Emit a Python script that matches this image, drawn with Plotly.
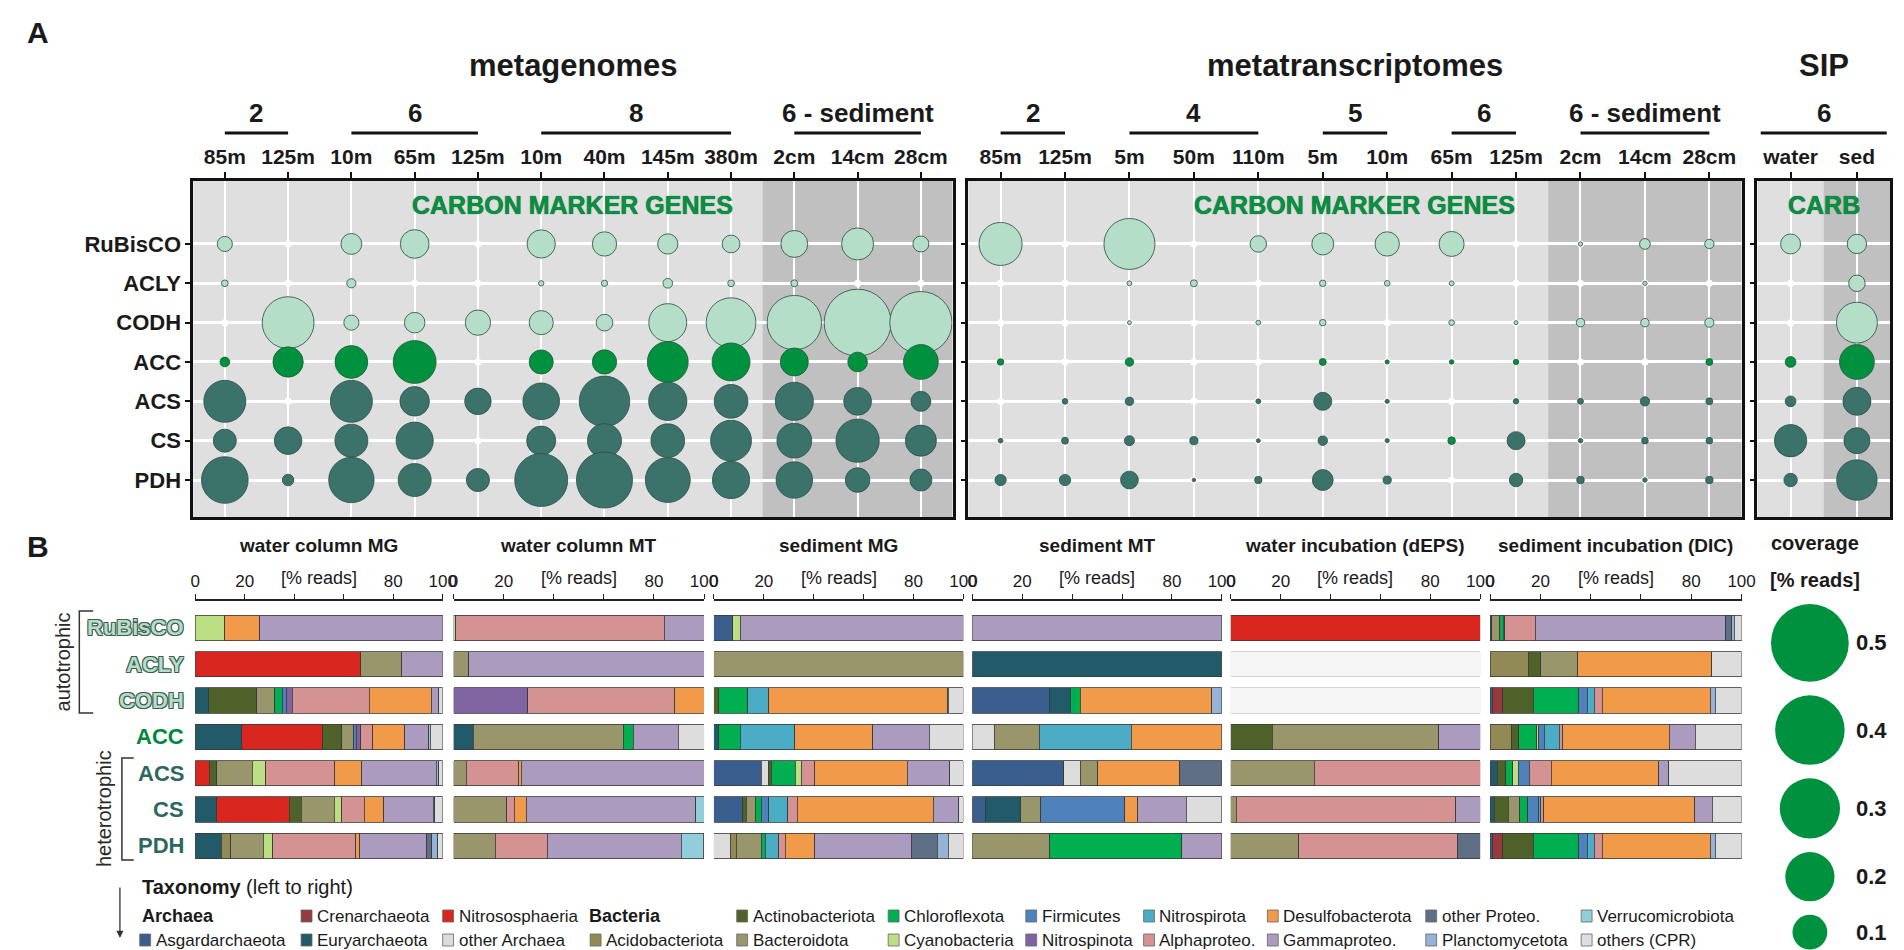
import math
import plotly.graph_objects as go

W, H = 1904, 950
NARROW = "Liberation Sans Narrow, Liberation Sans, Arial, sans-serif"
SANS = "Liberation Sans, Arial, sans-serif"

genes = ["RuBisCO", "ACLY", "CODH", "ACC", "ACS", "CS", "PDH"]

# ---------------- A: gene coverage [% reads] ----------------
mg_columns = ["85m", "125m", "10m", "65m", "125m", "10m", "40m", "145m", "380m", "2cm", "14cm", "28cm"]
mg_groups = [("2", 0, 1), ("6", 2, 4), ("8", 5, 8), ("6 - sediment", 9, 11)]
mg_coverage = [
    [0.019, 0, 0.036, 0.068, 0, 0.066, 0.049, 0.034, 0.026, 0.06, 0.085, 0.021],
    [0.0037, 0, 0.007, 0, 0, 0.0025, 0.0033, 0.0078, 0.0037, 0.004, 0, 0],
    [0, 0.222, 0.019, 0.035, 0.053, 0.048, 0.023, 0.119, 0.204, 0.245, 0.37, 0.32],
    [0.0078, 0.076, 0.089, 0.152, 0, 0.048, 0.049, 0.138, 0.119, 0.065, 0.032, 0.1],
    [0.146, 0, 0.146, 0.072, 0.058, 0.111, 0.211, 0.121, 0.094, 0.12, 0.064, 0.033],
    [0.044, 0.063, 0.09, 0.114, 0, 0.07, 0.096, 0.094, 0.138, 0.1, 0.155, 0.08],
    [0.18, 0.011, 0.17, 0.09, 0.044, 0.232, 0.26, 0.167, 0.115, 0.11, 0.05, 0.04],
]

mt_columns = ["85m", "125m", "5m", "50m", "110m", "5m", "10m", "65m", "125m", "2cm", "14cm", "28cm"]
mt_groups = [("2", 0, 1), ("4", 2, 4), ("5", 5, 6), ("6", 7, 8), ("6 - sediment", 9, 11)]
mt_coverage = [
    [0.153, 0, 0.215, 0, 0.0225, 0.04, 0.049, 0.052, 0, 0.0015, 0.0096, 0.0072],
    [0, 0, 0.002, 0.004, 0, 0.0035, 0.0027, 0.002, 0, 0, 0.0015, 0],
    [0, 0, 0.0013, 0, 0.002, 0.0035, 0, 0.0027, 0.0013, 0.006, 0.006, 0.007],
    [0.0035, 0, 0.006, 0, 0, 0.004, 0.0015, 0.0018, 0.0025, 0, 0, 0.004],
    [0, 0.0027, 0.006, 0, 0.002, 0.027, 0.0015, 0, 0.0025, 0.003, 0.0072, 0.004],
    [0.0019, 0.004, 0.0083, 0.0056, 0.0013, 0.0075, 0.0015, 0.0048, 0.027, 0.0017, 0.0037, 0.0037],
    [0.0105, 0.0105, 0.026, 0.001, 0.0045, 0.036, 0.0056, 0, 0.015, 0.0048, 0.0017, 0.0048],
]
mt_green_cells = [(5, 7)]  # CS at 65m is drawn in the ACC green

sip_columns = ["water", "sed"]
sip_groups = [("6", 0, 1)]
sip_coverage = [
    [0.033, 0.031],
    [0, 0.0225],
    [0, 0.138],
    [0.0096, 0.1],
    [0.0096, 0.065],
    [0.087, 0.056],
    [0.015, 0.135],
]

coverage_legend = [0.5, 0.4, 0.3, 0.2, 0.1]

# ---------------- B: taxonomy [% reads] ----------------
taxa = ["Asgardarchaeota", "Crenarchaeota", "Euryarchaeota", "Nitrososphaeria", "other Archaea",
        "Acidobacteriota", "Actinobacteriota", "Bacteroidota", "Chloroflexota", "Cyanobacteria",
        "Firmicutes", "Nitrospinota", "Nitrospirota", "Alphaproteo.", "Desulfobacterota",
        "Gammaproteo.", "other Proteo.", "Planctomycetota", "Verrucomicrobiota", "others (CPR)"]
archaea = taxa[:5]
bacteria = taxa[5:]

water_column_mg = {
    "Euryarchaeota": [0, 0, 5.5, 18.8, 0, 8.8, 10.6],
    "Nitrososphaeria": [0, 67, 0, 32.7, 5.7, 29.2, 0],
    "Acidobacteriota": [0, 0, 0, 0, 0, 0, 3.7],
    "Actinobacteriota": [0, 0, 19.4, 7.8, 3, 4.9, 0],
    "Bacteroidota": [0, 16.5, 7.3, 4.7, 14.3, 13.3, 13.3],
    "Chloroflexota": [0, 0, 3, 0, 0, 0, 0],
    "Cyanobacteria": [12, 0, 0, 0, 5.5, 3, 3.7],
    "Firmicutes": [0, 0, 1.6, 1, 0, 0, 0],
    "Nitrospinota": [0, 0, 2.4, 2, 0, 0, 0],
    "Alphaproteo.": [0, 0, 31.2, 4.7, 27.8, 9.2, 33.5],
    "Desulfobacterota": [14, 0, 25, 13, 11, 7.8, 1.6],
    "Gammaproteo.": [74, 16.5, 3, 9.6, 30.2, 20, 27.1],
    "other Proteo.": [0, 0, 0, 0, 0, 0, 2],
    "Planctomycetota": [0, 0, 0, 0, 1, 0, 2.5],
    "Verrucomicrobiota": [0, 0, 0, 0.6, 0, 0.5, 0],
    "others (CPR)": [0, 0, 1.6, 5.1, 1.5, 3.3, 2],
}
water_column_mt = {
    "Euryarchaeota": [0, 0, 0, 7.9, 0, 0, 0],
    "Bacteroidota": [0, 6, 0, 59.8, 5, 21.2, 16.6],
    "Chloroflexota": [0, 0, 0, 4, 0, 0, 0],
    "Cyanobacteria": [0.8, 0, 0, 0, 0, 0, 0],
    "Nitrospinota": [0, 0, 29.7, 0, 0, 0, 0],
    "Alphaproteo.": [83.4, 0, 58.6, 0, 21, 3, 20.8],
    "Desulfobacterota": [0, 0, 11.7, 0, 1, 4.8, 0],
    "Gammaproteo.": [15.8, 94, 0, 18, 73, 67.7, 53.6],
    "Verrucomicrobiota": [0, 0, 0, 0, 0, 3.3, 8.9],
    "others (CPR)": [0, 0, 0, 10.3, 0, 0, 0],
}
sediment_mg = {
    "Asgardarchaeota": [7.5, 0, 0, 0, 19, 11.6, 0],
    "Euryarchaeota": [0, 0, 0, 2, 0, 0, 0],
    "other Archaea": [0, 0, 0, 0, 3, 0, 6.5],
    "Acidobacteriota": [0, 0, 0, 0, 0, 0, 2.4],
    "Actinobacteriota": [0, 0, 2, 0, 1, 1.4, 0],
    "Bacteroidota": [0, 100, 0, 0, 0, 3.6, 10],
    "Chloroflexota": [0, 0, 11.6, 8.6, 9.5, 2.4, 1.6],
    "Cyanobacteria": [3, 0, 0, 0, 2.4, 0, 0],
    "Firmicutes": [0, 0, 0, 0, 0, 3, 0],
    "Nitrospirota": [0, 0, 8.3, 21.8, 0, 7.5, 5.5],
    "Alphaproteo.": [0, 0, 0, 0, 5.6, 3.8, 2.6],
    "Desulfobacterota": [0, 0, 71.6, 31.3, 36.9, 54.6, 11.9],
    "Gammaproteo.": [89.5, 0, 0, 22.6, 17.2, 10.3, 38.5],
    "other Proteo.": [0, 0, 0.5, 0, 0, 0, 10.6],
    "Planctomycetota": [0, 0, 0, 0, 0, 0, 4.4],
    "others (CPR)": [0, 0, 6, 13.7, 5.4, 1.8, 6],
}
sediment_mt = {
    "Asgardarchaeota": [0, 0, 31, 0, 36.6, 5.3, 0],
    "Euryarchaeota": [0, 100, 8.3, 0, 0, 14.2, 0],
    "other Archaea": [0, 0, 0, 8.8, 6.7, 0, 0],
    "Bacteroidota": [0, 0, 0, 18, 6.9, 8, 31],
    "Chloroflexota": [0, 0, 3.9, 0, 0, 0, 52.9],
    "Firmicutes": [0, 0, 0, 0, 0, 33.6, 0],
    "Nitrospirota": [0, 0, 0, 36.9, 0, 0, 0],
    "Desulfobacterota": [0, 0, 52.7, 36.3, 33, 5.3, 0],
    "Gammaproteo.": [100, 0, 0, 0, 0, 19.4, 16.1],
    "other Proteo.": [0, 0, 0, 0, 16.8, 0, 0],
    "Planctomycetota": [0, 0, 4.1, 0, 0, 0, 0],
    "others (CPR)": [0, 0, 0, 0, 0, 14.2, 0],
}
water_incubation = {
    "Nitrososphaeria": [100, 0, 0, 0, 0, 0, 0],
    "Actinobacteriota": [0, 0, 0, 16.6, 0, 0, 0],
    "Bacteroidota": [0, 0, 0, 66.8, 33.5, 2.3, 27.3],
    "Alphaproteo.": [0, 0, 0, 0, 66.5, 87.9, 63.6],
    "Gammaproteo.": [0, 0, 0, 16.6, 0, 9.8, 0],
    "other Proteo.": [0, 0, 0, 0, 0, 0, 9.1],
}
sediment_incubation = {
    "Asgardarchaeota": [0, 0, 1, 0, 0, 0, 1],
    "Crenarchaeota": [0, 0, 4.1, 0, 0, 0, 4.1],
    "Euryarchaeota": [0.7, 0, 0, 0, 2.8, 1.6, 0],
    "Acidobacteriota": [0, 15.2, 0, 8.7, 0, 0, 0],
    "Actinobacteriota": [0, 5, 12, 2.7, 3.5, 5.7, 12],
    "Bacteroidota": [3.2, 14.7, 0, 0, 0, 4.4, 0],
    "Chloroflexota": [1.4, 0, 18.1, 7.1, 2.7, 3.2, 18.1],
    "Cyanobacteria": [0, 0, 0, 0.9, 2.1, 0, 0],
    "Firmicutes": [0, 0, 3.5, 2.1, 4.4, 4.4, 3.5],
    "Nitrospirota": [0.6, 0, 2.7, 5.9, 0, 0.9, 2.7],
    "Alphaproteo.": [12.1, 0, 3.2, 1.4, 8.9, 1.2, 3.2],
    "Desulfobacterota": [0, 53.2, 42.9, 42.4, 42.6, 59.9, 42.9],
    "Gammaproteo.": [75.8, 0, 0, 10.3, 4.1, 7.1, 0],
    "other Proteo.": [2.3, 0, 0, 0, 0, 0, 0],
    "Planctomycetota": [0.9, 0, 2.1, 0, 0, 0, 2.1],
    "others (CPR)": [3, 11.9, 10.4, 18.5, 28.9, 11.6, 10.4],
}

taxon_colors = {
    "Asgardarchaeota": "#3a5e8e", "Crenarchaeota": "#953a3d", "Euryarchaeota": "#235a69",
    "Nitrososphaeria": "#d9261e", "other Archaea": "#dcdcdc", "Acidobacteriota": "#928a55",
    "Actinobacteriota": "#4e6229", "Bacteroidota": "#9a966c", "Chloroflexota": "#00b050",
    "Cyanobacteria": "#bddf83", "Firmicutes": "#4f81bd", "Nitrospinota": "#8064a2",
    "Nitrospirota": "#4bacc6", "Alphaproteo.": "#d49392", "Desulfobacterota": "#f09a4a",
    "Gammaproteo.": "#aa9bbf", "other Proteo.": "#5f6f86", "Planctomycetota": "#95b3d7",
    "Verrucomicrobiota": "#92cddc", "others (CPR)": "#dddddd",
}

MINT, GREEN, TEAL = "#b4dec7", "#00913f", "#3b7269"
gene_colors = [MINT, MINT, MINT, GREEN, TEAL, TEAL, TEAL]
gene_lines = ["#2a4a3e", "#2a4a3e", "#2a4a3e", "#1d5a35", "#2a5049", "#2a5049", "#2a5049"]
label_colors = [MINT, MINT, MINT, "#00873c", "#2d675e", "#2d675e", "#2d675e"]
OUTLINE = "-1px -1px 0 #3d5d50, 1px -1px 0 #3d5d50, -1px 1px 0 #3d5d50, 1px 1px 0 #3d5d50"

SIZEREF = 1 / 6050.0  # bubble diameter ~ 110 px * sqrt(% reads)


def px(x):
    return x / W


def py(y):
    return 1 - y / H


fig = go.Figure()
axes = {}
shapes = []
annotations = []


def ann(text, x, y, size, bold=False, color="#1a1a1a", family=NARROW, xanchor="center",
        yanchor="middle", xref="paper", yref="paper", angle=0, shadow=None):
    font = dict(size=size, color=color, family=family, weight="bold" if bold else "normal")
    if shadow:
        font["shadow"] = shadow
    annotations.append(dict(text=text, x=x, y=y, xref=xref, yref=yref, showarrow=False,
                            xanchor=xanchor, yanchor=yanchor, font=font, textangle=angle))


# ---------------- panel A ----------------
ann("A", px(12), py(25), 30, bold=True, family=SANS, xanchor="left")

bubble_panels = [
    dict(data=mg_coverage, columns=mg_columns, groups=mg_groups, x0=182, x1=949, sed=8.5,
         title="metagenomes", tag="CARBON MARKER GENES", labels=True, pad=0, green=[]),
    dict(data=mt_coverage, columns=mt_columns, groups=mt_groups, x0=965, x1=1746, sed=8.5,
         title="metatranscriptomes", tag="CARBON MARKER GENES", labels=False, pad=0, green=mt_green_cells),
    dict(data=sip_coverage, columns=sip_columns, groups=sip_groups, x0=1762, x1=1896, sed=0.5,
         title="SIP", tag="CARB", labels=False, pad=0.45, green=[]),
]

for k, p in enumerate(bubble_panels, start=1):
    xa = "x" if k == 1 else f"x{k}"
    ya = "y" if k == 1 else f"y{k}"
    xkey = "xaxis" if k == 1 else f"xaxis{k}"
    ykey = "yaxis" if k == 1 else f"yaxis{k}"
    ncol = len(p["columns"])
    axes[xkey] = dict(domain=[px(p["x0"]), px(p["x1"])], range=[-0.5, ncol - 0.5],
                      tickmode="array", tickvals=list(range(ncol)), ticktext=p["columns"],
                      side="top", ticks="outside", ticklen=6, tickwidth=1.5, tickcolor="#111",
                      tickangle=0, showline=True, mirror=True, linewidth=2.5, linecolor="#111",
                      showgrid=True, gridcolor="white", gridwidth=1.5, zeroline=False,
                      tickfont=dict(family=NARROW, size=21, color="#1a1a1a", weight="bold"),
                      anchor=ya, fixedrange=True)
    axes[ykey] = dict(domain=[py(509), py(173)], type="category", categoryorder="array",
                      categoryarray=genes, range=[6.94, -1.6], ticks="outside", ticklen=5,
                      tickwidth=1.5, tickcolor="#111", showticklabels=p["labels"],
                      showline=True, mirror=True, linewidth=2.5, linecolor="#111",
                      showgrid=True, gridcolor="white", gridwidth=2.5, zeroline=False,
                      tickfont=dict(family=NARROW, size=22, color="#1a1a1a", weight="bold"),
                      anchor=xa, fixedrange=True)
    shapes.append(dict(type="rect", xref=f"{xa} domain", yref=f"{ya} domain", x0=0, x1=1, y0=0, y1=1,
                       fillcolor="#dfdfdf", line=dict(width=0), layer="below"))
    shapes.append(dict(type="rect", xref=xa, yref=f"{ya} domain", x0=p["sed"], x1=ncol - 0.5, y0=0, y1=1,
                       fillcolor="#c0c0c0", line=dict(width=0), layer="below"))

    # grid intersections
    fig.add_trace(go.Scatter(x=[c for g in genes for c in range(ncol)],
                             y=[g for g in genes for c in range(ncol)],
                             mode="markers", marker=dict(color="white", size=7),
                             xaxis=xa, yaxis=ya, hoverinfo="skip", showlegend=False))
    for gi, gene in enumerate(genes):
        row = p["data"][gi]
        cols = [c for c, v in enumerate(row) if v > 0]
        colors = [GREEN if (gi, c) in p["green"] else gene_colors[gi] for c in cols]
        fig.add_trace(go.Scatter(
            x=cols, y=[gene] * len(cols), mode="markers",
            marker=dict(size=[row[c] for c in cols], sizemode="area", sizeref=SIZEREF,
                        color=colors, opacity=1,
                        line=dict(color=gene_lines[gi], width=0.8)),
            xaxis=xa, yaxis=ya, showlegend=False,
            hovertemplate=gene + " %{x}: %{marker.size} % reads<extra></extra>"))

    ann(p["title"], 0.5, py(58), 31, bold=True, xref=f"{xa} domain")
    ann(p["tag"], 0.5, py(197), 25, bold=True, color="#07903f", xref=f"{xa} domain",
        shadow="0 0 1px #0a3f22")
    for name, a, b in p["groups"]:
        ann(name, (a + b) / 2, py(105), 26, bold=True, xref=xa)
        shapes.append(dict(type="line", xref=xa, yref="paper", x0=a - p["pad"], x1=b + p["pad"],
                           y0=py(125), y1=py(125), line=dict(color="#111", width=3)))

# ---------------- panel B ----------------
ann("B", px(12), py(538), 30, bold=True, family=SANS, xanchor="left")

bar_panels = [
    ("water column MG", water_column_mg, 184, 434),
    ("water column MT", water_column_mt, 445, 698),
    ("sediment MG", sediment_mg, 708, 960),
    ("sediment MT", sediment_mt, 969, 1221),
    ("water incubation (dEPS)", water_incubation, 1230, 1482),
    ("sediment incubation (DIC)", sediment_incubation, 1492, 1746),
]

for i, (title, table, x0, x1) in enumerate(bar_panels):
    k = i + 4
    xa, ya = f"x{k}", f"y{k}"
    axes[f"xaxis{k}"] = dict(domain=[px(x0), px(x1)], range=[0, 100], side="top",
                             tickmode="array", tickvals=[0, 20, 40, 60, 80, 100],
                             ticktext=["0", "20", "", "", "80", "100"], tickangle=0,
                             ticks="outside", ticklen=5, tickwidth=1.2, tickcolor="#222",
                             showline=True, linewidth=2, linecolor="#222", showgrid=False,
                             zeroline=False, anchor=ya, fixedrange=True,
                             tickfont=dict(family=NARROW, size=17, color="#1a1a1a"))
    axes[f"yaxis{k}"] = dict(domain=[py(855), py(593)], type="category", categoryorder="array",
                             categoryarray=genes, range=[6.47, -0.74], showticklabels=False,
                             showgrid=False, showline=False, zeroline=False, ticks="",
                             anchor=xa, fixedrange=True)
    totals = [sum(vals[g] for vals in table.values()) for g in range(len(genes))]
    for taxon in taxa:
        if taxon not in table:
            continue
        vals = table[taxon]
        fig.add_trace(go.Bar(
            x=[v if v > 0 else None for v in vals], y=genes, orientation="h",
            marker=dict(color=taxon_colors[taxon], line=dict(color="#3a3a3a", width=0.8)),
            name=taxon, xaxis=xa, yaxis=ya, showlegend=False,
            hovertemplate=taxon + " %{y}: %{x}%<extra></extra>"))
    if any(t == 0 for t in totals):
        fig.add_trace(go.Bar(
            x=[100 if t == 0 else None for t in totals], y=genes, orientation="h",
            marker=dict(color="#f6f6f6", line=dict(color="#d6d6d6", width=1)),
            xaxis=xa, yaxis=ya, showlegend=False, hoverinfo="skip"))
    ann(title, px((x0 + x1) / 2), py(537), 19, bold=True)
    ann("[% reads]", px((x0 + x1) / 2), py(570), 18)

for gi, gene in enumerate(genes):
    ann(gene, px(175), gene, 22, bold=True, color=label_colors[gi], xanchor="right",
        yref="y4", shadow=OUTLINE if gi < 3 else None)

# autotrophic / heterotrophic brackets
ann("autotrophic", px(51), py(654), 20, family=SANS, color="#2a2a2a", angle=-90)
ann("heterotrophic", px(92), py(801), 20, family=SANS, color="#2a2a2a", angle=-90)
for bx, top, bottom, tick in [(67, 603, 705, 81), (110, 750, 852, 122)]:
    shapes.append(dict(type="path", xref="paper", yref="paper",
                       path=f"M {px(tick)} {py(top)} L {px(bx)} {py(top)} L {px(bx)} {py(bottom)} L {px(tick)} {py(bottom)}",
                       line=dict(color="#333", width=1.5)))

# coverage legend
axes["xaxis10"] = dict(domain=[px(1765), px(1865)], range=[-1, 1], visible=False, anchor="y10", fixedrange=True)
axes["yaxis10"] = dict(domain=[py(950), py(590)], range=[950, 590], visible=False, anchor="x10", fixedrange=True)
diam = [2 * math.sqrt(v / (2 * SIZEREF)) for v in coverage_legend]
centers = []
edge = 596
for d in diam:
    centers.append(edge + d / 2)
    edge += d + 13.5
fig.add_trace(go.Scatter(x=[0] * len(coverage_legend), y=centers, mode="markers",
                         marker=dict(size=coverage_legend, sizemode="area", sizeref=SIZEREF,
                                     color=GREEN, opacity=1, line=dict(width=0)),
                         cliponaxis=False, xaxis="x10", yaxis="y10", showlegend=False,
                         hoverinfo="skip"))
for v, c in zip(coverage_legend, centers):
    ann(f"{v:.1f}", px(1877), c, 22, bold=True, yref="y10")
ann("coverage", px(1820), py(535), 20, bold=True)
ann("[% reads]", px(1820), py(572), 20, bold=True)

# taxonomy legend
ann("<b>Taxonomy</b> (left to right)", px(128), py(879), 20, xanchor="left")
annotations.append(dict(x=px(108), y=py(930), xref="paper", yref="paper", ax=0, ay=-52,
                        showarrow=True, arrowhead=2, arrowsize=1.1, arrowwidth=1.3,
                        arrowcolor="#333", text=""))
legend_slots = ["Archaea"] + archaea + ["Bacteria"] + bacteria
legend_cols = [128, 291, 434, 583, 731, 884, 1023, 1142, 1267, 1427, 1584]
legend_rows = [908, 932]
for s, item in enumerate(legend_slots):
    lx = legend_cols[s // 2]
    ly = legend_rows[s % 2]
    if item in ("Archaea", "Bacteria"):
        hx = lx - 3 if item == "Bacteria" else lx
        ann(item, px(hx), py(ly), 18, bold=True, xanchor="left")
        continue
    shapes.append(dict(type="rect", xref="paper", yref="paper", x0=px(lx), x1=px(lx + 11),
                       y0=py(ly + 6), y1=py(ly - 6), fillcolor=taxon_colors[item],
                       line=dict(color="#666", width=0.8)))
    ann(item, px(lx + 14), py(ly), 17, xanchor="left")

fig.update_layout(width=W, height=H, margin=dict(l=0, r=0, t=0, b=0),
                  plot_bgcolor="white", paper_bgcolor="white", barmode="stack", bargap=0.3,
                  showlegend=False, shapes=shapes, annotations=annotations, **axes)
fig.write_html("out.html")
